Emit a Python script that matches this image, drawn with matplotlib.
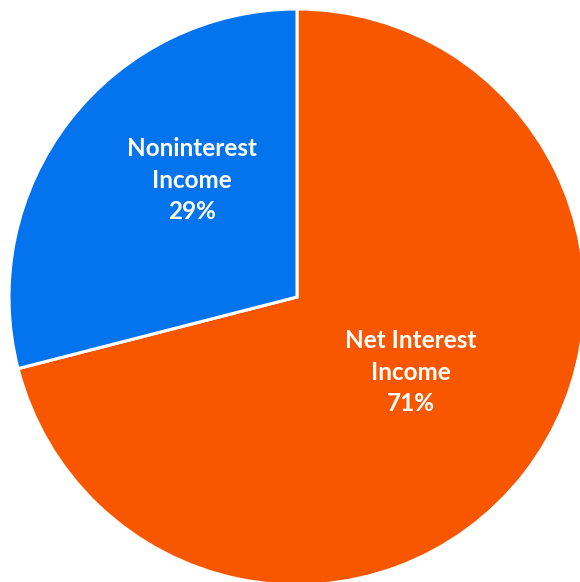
import matplotlib.pyplot as plt
import numpy as np

labels = ['Net Interest\nIncome', 'Noninterest\nIncome']
shares = [71, 29]
colors = ['#F85700', '#0473EE']

fig = plt.figure(figsize=(5.8, 5.82), dpi=100)
# pie centre at about (297, 297) px, radius about 288 px
ax = fig.add_axes([9 / 580, -3 / 582, 576 / 580, 576 / 582])
ax.pie(shares, colors=colors, startangle=90, counterclock=False, radius=1,
       wedgeprops=dict(edgecolor='white', linewidth=2.2))
ax.set_xlim(-1, 1)
ax.set_ylim(-1, 1)
ax.set_aspect('equal')
ax.axis('off')

# label positions (relative to radius)
label_pos = [(0.394, -0.261), (-0.366, 0.406)]
for lab, val, (x, y) in zip(labels, shares, label_pos):
    ax.text(x, y, f'{lab}\n{val}%', ha='center', va='center', color='white',
            fontsize=17.5, fontweight='bold', family=['Lato', 'DejaVu Sans'],
            linespacing=1.45)

fig.savefig('out.png', dpi=100)
